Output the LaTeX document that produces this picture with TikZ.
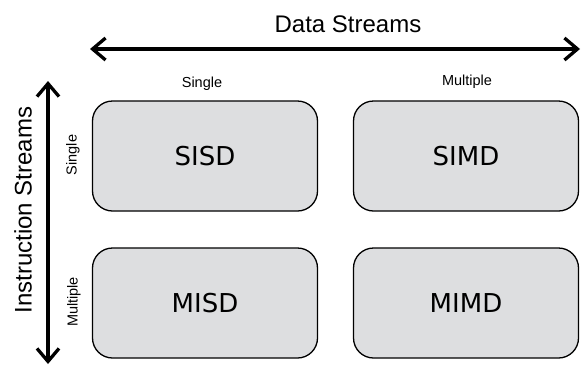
\documentclass[tikz,border=0pt]{standalone}
\usepackage{fontspec}
\setmainfont{Liberation Sans}
\newfontfamily\boxfont{DejaVu Sans}
\usetikzlibrary{arrows.meta}
\definecolor{boxgray}{RGB}{221,222,224}
\tikzset{
  cell/.style={draw=black, line width=1.3pt, fill=boxgray, rounded corners=20pt,
    minimum width=225pt, minimum height=110pt, inner sep=0pt,
    font=\boxfont\fontsize{26}{30}\selectfont},
  biarrow/.style={line width=3.3pt, {Straight Barb[length=13pt,width=22pt]}-{Straight Barb[length=13pt,width=22pt]}},
  bigtitle/.style={font=\fontsize{24}{28}\selectfont, inner sep=0pt},
  smalllabel/.style={font=\fontsize{14.5}{17}\selectfont, inner sep=0pt}
}
\begin{document}
\begin{tikzpicture}[x=1pt,y=-1pt]
\useasboundingbox (0,0) rectangle (581,365);
% boxes
\node[cell] (sisd) at (205,156) {SISD};
\node[cell] (simd) at (466,156) {SIMD};
\node[cell] (misd) at (205,303) {MISD};
\node[cell] (mimd) at (466,303) {MIMD};
% titles
\node[bigtitle] (dstitle) at (348,24) {Data Streams};
\node[bigtitle, rotate=90] (istitle) at (23,210) {Instruction Streams};
% column / row labels
\node[smalllabel] (colsingle) at (202,84) {Single};
\node[smalllabel] (colmultiple) at (467,82) {Multiple};
\node[smalllabel, rotate=90] (rowsingle) at (73,155) {Single};
\node[smalllabel, rotate=90] (rowmultiple) at (74,302) {Multiple};
% arrows
\coordinate (hl) at (90,49);
\coordinate (hr) at (580,49);
\coordinate (vt) at (48,81);
\coordinate (vb) at (48,364);
\draw[biarrow] (hl) -- (hr);
\draw[biarrow] (vt) -- (vb);
\end{tikzpicture}
\end{document}
